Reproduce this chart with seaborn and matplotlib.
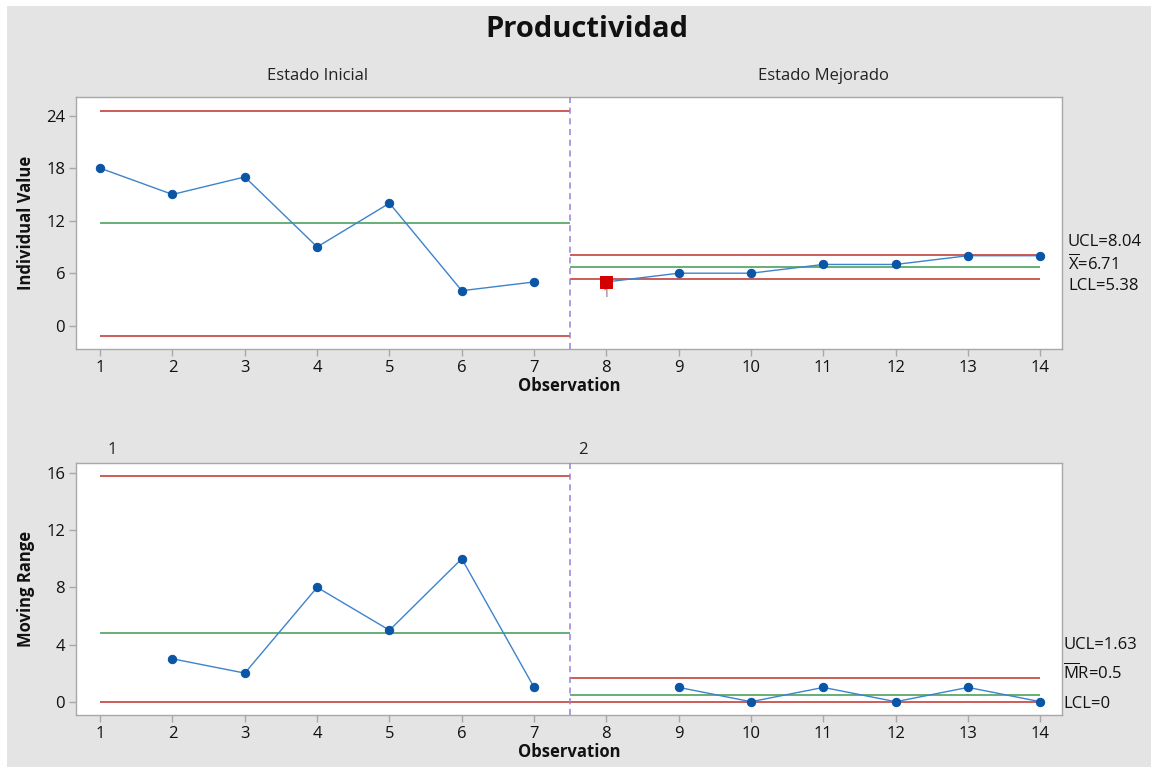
import numpy as np
import pandas as pd
import matplotlib
matplotlib.use("Agg")
import matplotlib.pyplot as plt
import seaborn as sns
from matplotlib.patches import Rectangle
from matplotlib.transforms import blended_transform_factory

# ---------------- data ----------------
observations = list(range(1, 15))
stage_of_obs = [1] * 7 + [2] * 7
stage_names = ["Estado Inicial", "Estado Mejorado"]
stage_ids = ["1", "2"]
productividad = [18, 15, 17, 9, 14, 4, 5, 5, 6, 6, 7, 7, 8, 8]
moving_range = [np.nan, 3, 2, 8, 5, 10, 1, np.nan, 1, 0, 1, 0, 1, 0]

i_ucl = [24.57, 8.04]
i_mean = [11.71, 6.71]
i_lcl = [-1.15, 5.38]
mr_ucl = [15.79, 1.63]
mr_mean = [4.83, 0.5]
mr_lcl = [0.0, 0.0]

flagged_obs = [8]
flag_label = "1"

x_ticks = list(range(1, 15))
i_yticks = [0, 6, 12, 18, 24]
mr_yticks = [0, 4, 8, 12, 16]

i_labels = ["UCL=8.04", r"$\overline{\mathrm{X}}$=6.71", "LCL=5.38"]
mr_labels = ["UCL=1.63", r"$\overline{\mathrm{M}}$R=0.5", "LCL=0"]

df = pd.DataFrame({"obs": observations, "stage": stage_of_obs,
                   "value": productividad, "mr": moving_range})

# ---------------- style ----------------
sns.set_theme(style="white")
plt.rcParams["font.family"] = ["Open Sans", "DejaVu Sans"]
plt.rcParams["mathtext.fontset"] = "custom"
plt.rcParams["mathtext.rm"] = "Open Sans"
plt.rcParams["mathtext.it"] = "Open Sans:italic"
plt.rcParams["mathtext.bf"] = "Open Sans:bold"

BG = "#e4e4e4"
RED = "#c0302a"
GREEN = "#3c9a50"
LINE_BLUE = "#3d83cc"
DOT_BLUE = "#0a55a6"
PURPLE = "#9a7fd6"
SPINE = "#a8a8a8"

fig = plt.figure(figsize=(11.51, 7.67), dpi=100, facecolor=BG)
fig.patches.append(Rectangle((0, 0), 7 / 1151, 1, transform=fig.transFigure,
                             facecolor="white", edgecolor="none", zorder=-1))
fig.patches.append(Rectangle((0, 1 - 6 / 767), 1, 6 / 767, transform=fig.transFigure,
                             facecolor="white", edgecolor="none", zorder=-1))

ax1 = fig.add_axes([0.0663, 0.545, 0.8564, 0.3286])
ax2 = fig.add_axes([0.0663, 0.0678, 0.8564, 0.3286])

stages = sorted(set(stage_of_obs))
divider = (max(o for o, s in zip(observations, stage_of_obs) if s == 1) +
           min(o for o, s in zip(observations, stage_of_obs) if s == 2)) / 2


def style_axes(ax, yticks, ylim):
    ax.set_facecolor("white")
    ax.set_xlim(0.67, 14.3)
    ax.set_ylim(*ylim)
    ax.set_xticks(x_ticks)
    ax.set_yticks(yticks)
    for sp in ax.spines.values():
        sp.set_color(SPINE)
        sp.set_linewidth(1.0)
    ax.tick_params(axis="both", which="both", direction="out", length=5, width=1,
                   color=SPINE, labelsize=12, labelcolor="#111111", pad=3,
                   bottom=True, left=True)
    ax.set_xlabel("Observation", fontsize=12, fontweight="bold", color="#111111", labelpad=1)


def draw_limits(ax, ucl, mean, lcl):
    for k, s in enumerate(stages):
        obs_s = [o for o, st in zip(observations, stage_of_obs) if st == s]
        x0 = obs_s[0] if k == 0 else divider
        x1 = divider if k == 0 else obs_s[-1]
        ax.hlines(ucl[k], x0, x1, color=RED, lw=1.1, zorder=2)
        ax.hlines(mean[k], x0, x1, color=GREEN, lw=1.1, zorder=2)
        ax.hlines(lcl[k], x0, x1, color=RED, lw=1.1, zorder=2)
    ax.axvline(divider, color=PURPLE, lw=1.1, ls=(0, (4, 3)), zorder=3)


def draw_series(ax, col):
    for s in stages:
        sub = df[(df.stage == s)].dropna(subset=[col])
        sns.lineplot(data=sub, x="obs", y=col, ax=ax, color=LINE_BLUE, lw=1.0,
                     marker="o", markersize=6, markerfacecolor=DOT_BLUE,
                     markeredgecolor=DOT_BLUE, zorder=4, legend=False)


# ---------------- Individual chart ----------------
draw_limits(ax1, i_ucl, i_mean, i_lcl)
draw_series(ax1, "value")
flag = df[df.obs.isin(flagged_obs)]
sns.scatterplot(data=flag, x="obs", y="value", ax=ax1, marker="s", s=80,
                color="#d40000", edgecolor="#d40000", zorder=6, legend=False)
for _, r in flag.iterrows():
    ax1.annotate(flag_label, (r.obs, r.value), xytext=(0, -3.5), textcoords="offset points",
                 ha="center", va="top", fontsize=9, color="#8a6a8a", zorder=5)
style_axes(ax1, i_yticks, (-2.66, 26.14))
ax1.set_ylabel("Individual Value", fontsize=12, fontweight="bold", color="#111111", labelpad=8)

# ---------------- Moving range chart ----------------
draw_limits(ax2, mr_ucl, mr_mean, mr_lcl)
draw_series(ax2, "mr")
style_axes(ax2, mr_yticks, (-0.93, 16.7))
ax2.set_ylabel("Moving Range", fontsize=12, fontweight="bold", color="#111111", labelpad=8)

# ---------------- stage labels ----------------
for k, s in enumerate(stages):
    obs_s = [o for o, st in zip(observations, stage_of_obs) if st == s]
    mid = (obs_s[0] + obs_s[-1]) / 2
    tr = blended_transform_factory(ax1.transData, ax1.transAxes)
    ax1.text(mid, 1.085, stage_names[k], transform=tr, ha="center", va="center",
             fontsize=12, color="#222222")
    tr2 = blended_transform_factory(ax2.transData, ax2.transAxes)
    xpos = obs_s[0] + 0.17 if k == 0 else divider + 0.18
    ax2.text(xpos, 1.05, stage_ids[k], transform=tr2, ha="center", va="center",
             fontsize=12, color="#222222")

# ---------------- limit annotations (right side) ----------------
tr1 = blended_transform_factory(ax1.transAxes, ax1.transData)
for lab, yv, off in zip(i_labels, [i_ucl[1], i_mean[1], i_lcl[1]], [9.5, 2.5, -5.5]):
    ax1.annotate(lab, (1.006, yv), xycoords=tr1, xytext=(0, off), textcoords="offset points",
                 ha="left", va="center", fontsize=12, color="#111111", annotation_clip=False)
tr2 = blended_transform_factory(ax2.transAxes, ax2.transData)
for lab, yv, off in zip(mr_labels, [mr_ucl[1], mr_mean[1], mr_lcl[1]], [24, 15.5, -1.5]):
    ax2.annotate(lab, (1.001, yv), xycoords=tr2, xytext=(0, off), textcoords="offset points",
                 ha="left", va="center", fontsize=12, color="#111111", annotation_clip=False)

fig.text(0.51, 0.961, "Productividad", ha="center", va="center", fontsize=21,
         fontweight="bold", color="#111111")

fig.savefig("out.png", dpi=100, facecolor=BG)
